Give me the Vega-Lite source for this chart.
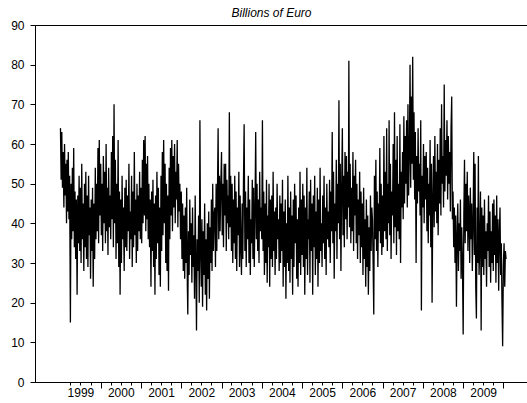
{
"$schema":"https://vega.github.io/schema/vega-lite/v6.json",
"width":493,"height":357,
"autosize":{"type":"none"},
"padding":{"left":35,"top":25,"right":0,"bottom":21},
"title":{"text":"Billions of Euro","fontStyle":"italic","fontWeight":"normal","font":"Liberation Sans","fontSize":12,"color":"#000","dx":-10,"offset":-1},
"config":{"view":{"stroke":"#000","strokeWidth":1},"axis":{"labelFont":"Liberation Sans","labelFontSize":12,"labelColor":"#000","domainColor":"#000","tickColor":"#000","grid":false,"title":null}},
"data":{"values":[
{"d":"1999-01-01","v":64},{"d":"1999-01-07","v":51},{"d":"1999-01-13","v":63},{"d":"1999-01-19","v":49},{"d":"1999-01-25","v":58},
{"d":"1999-02-01","v":44},{"d":"1999-02-07","v":60},{"d":"1999-02-13","v":47},{"d":"1999-02-19","v":55},{"d":"1999-02-25","v":40},
{"d":"1999-03-01","v":56},{"d":"1999-03-07","v":43},{"d":"1999-03-13","v":58},{"d":"1999-03-19","v":41},{"d":"1999-03-25","v":52},
{"d":"1999-04-01","v":15},{"d":"1999-04-07","v":50},{"d":"1999-04-13","v":36},{"d":"1999-04-19","v":54},{"d":"1999-04-25","v":38},
{"d":"1999-05-01","v":59},{"d":"1999-05-07","v":34},{"d":"1999-05-13","v":48},{"d":"1999-05-19","v":31},{"d":"1999-05-25","v":46},
{"d":"1999-06-01","v":22},{"d":"1999-06-07","v":47},{"d":"1999-06-13","v":35},{"d":"1999-06-19","v":52},{"d":"1999-06-25","v":33},
{"d":"1999-07-01","v":49},{"d":"1999-07-07","v":30},{"d":"1999-07-13","v":55},{"d":"1999-07-19","v":36},{"d":"1999-07-25","v":45},
{"d":"1999-08-01","v":28},{"d":"1999-08-07","v":50},{"d":"1999-08-13","v":34},{"d":"1999-08-19","v":53},{"d":"1999-08-25","v":31},
{"d":"1999-09-01","v":47},{"d":"1999-09-07","v":29},{"d":"1999-09-13","v":52},{"d":"1999-09-19","v":37},{"d":"1999-09-25","v":44},
{"d":"1999-10-01","v":26},{"d":"1999-10-07","v":46},{"d":"1999-10-13","v":33},{"d":"1999-10-19","v":49},{"d":"1999-10-25","v":24},
{"d":"1999-11-01","v":45},{"d":"1999-11-07","v":31},{"d":"1999-11-13","v":54},{"d":"1999-11-19","v":36},{"d":"1999-11-25","v":50},
{"d":"1999-12-01","v":38},{"d":"1999-12-07","v":59},{"d":"1999-12-13","v":35},{"d":"1999-12-19","v":61},{"d":"1999-12-25","v":42},
{"d":"2000-01-01","v":55},{"d":"2000-01-07","v":37},{"d":"2000-01-13","v":50},{"d":"2000-01-19","v":33},{"d":"2000-01-25","v":57},
{"d":"2000-02-01","v":40},{"d":"2000-02-07","v":53},{"d":"2000-02-13","v":35},{"d":"2000-02-19","v":60},{"d":"2000-02-25","v":38},
{"d":"2000-03-01","v":49},{"d":"2000-03-07","v":32},{"d":"2000-03-13","v":54},{"d":"2000-03-19","v":39},{"d":"2000-03-25","v":47},
{"d":"2000-04-01","v":36},{"d":"2000-04-07","v":58},{"d":"2000-04-13","v":41},{"d":"2000-04-19","v":62},{"d":"2000-04-25","v":34},
{"d":"2000-05-01","v":70},{"d":"2000-05-07","v":40},{"d":"2000-05-13","v":56},{"d":"2000-05-19","v":31},{"d":"2000-05-25","v":50},
{"d":"2000-06-01","v":35},{"d":"2000-06-07","v":61},{"d":"2000-06-13","v":29},{"d":"2000-06-19","v":48},{"d":"2000-06-25","v":22},
{"d":"2000-07-01","v":46},{"d":"2000-07-07","v":30},{"d":"2000-07-13","v":52},{"d":"2000-07-19","v":36},{"d":"2000-07-25","v":44},
{"d":"2000-08-01","v":28},{"d":"2000-08-07","v":49},{"d":"2000-08-13","v":34},{"d":"2000-08-19","v":51},{"d":"2000-08-25","v":33},
{"d":"2000-09-01","v":47},{"d":"2000-09-07","v":38},{"d":"2000-09-13","v":55},{"d":"2000-09-19","v":31},{"d":"2000-09-25","v":43},
{"d":"2000-10-01","v":36},{"d":"2000-10-07","v":52},{"d":"2000-10-13","v":29},{"d":"2000-10-19","v":48},{"d":"2000-10-25","v":34},
{"d":"2000-11-01","v":58},{"d":"2000-11-07","v":37},{"d":"2000-11-13","v":46},{"d":"2000-11-19","v":30},{"d":"2000-11-25","v":50},
{"d":"2000-12-01","v":33},{"d":"2000-12-07","v":47},{"d":"2000-12-13","v":38},{"d":"2000-12-19","v":53},{"d":"2000-12-25","v":36},
{"d":"2001-01-01","v":49},{"d":"2001-01-07","v":35},{"d":"2001-01-13","v":56},{"d":"2001-01-19","v":40},{"d":"2001-01-25","v":61},
{"d":"2001-02-01","v":42},{"d":"2001-02-07","v":62},{"d":"2001-02-13","v":38},{"d":"2001-02-19","v":55},{"d":"2001-02-25","v":41},
{"d":"2001-03-01","v":57},{"d":"2001-03-07","v":36},{"d":"2001-03-13","v":50},{"d":"2001-03-19","v":34},{"d":"2001-03-25","v":46},
{"d":"2001-04-01","v":24},{"d":"2001-04-07","v":48},{"d":"2001-04-13","v":33},{"d":"2001-04-19","v":51},{"d":"2001-04-25","v":29},
{"d":"2001-05-01","v":45},{"d":"2001-05-07","v":22},{"d":"2001-05-13","v":47},{"d":"2001-05-19","v":31},{"d":"2001-05-25","v":53},
{"d":"2001-06-01","v":35},{"d":"2001-06-07","v":49},{"d":"2001-06-13","v":27},{"d":"2001-06-19","v":44},{"d":"2001-06-25","v":24},
{"d":"2001-07-01","v":52},{"d":"2001-07-07","v":33},{"d":"2001-07-13","v":58},{"d":"2001-07-19","v":37},{"d":"2001-07-25","v":61},
{"d":"2001-08-01","v":40},{"d":"2001-08-07","v":55},{"d":"2001-08-13","v":30},{"d":"2001-08-19","v":50},{"d":"2001-08-25","v":28},
{"d":"2001-09-01","v":47},{"d":"2001-09-07","v":23},{"d":"2001-09-13","v":54},{"d":"2001-09-19","v":36},{"d":"2001-09-25","v":59},
{"d":"2001-10-01","v":42},{"d":"2001-10-07","v":61},{"d":"2001-10-13","v":38},{"d":"2001-10-19","v":57},{"d":"2001-10-25","v":44},
{"d":"2001-11-01","v":60},{"d":"2001-11-07","v":40},{"d":"2001-11-13","v":53},{"d":"2001-11-19","v":46},{"d":"2001-11-25","v":61},
{"d":"2001-12-01","v":39},{"d":"2001-12-07","v":55},{"d":"2001-12-13","v":43},{"d":"2001-12-19","v":50},{"d":"2001-12-25","v":36},
{"d":"2002-01-01","v":48},{"d":"2002-01-07","v":31},{"d":"2002-01-13","v":45},{"d":"2002-01-19","v":28},{"d":"2002-01-25","v":42},
{"d":"2002-02-01","v":26},{"d":"2002-02-07","v":44},{"d":"2002-02-13","v":30},{"d":"2002-02-19","v":49},{"d":"2002-02-25","v":24},
{"d":"2002-03-01","v":17},{"d":"2002-03-07","v":38},{"d":"2002-03-13","v":27},{"d":"2002-03-19","v":46},{"d":"2002-03-25","v":32},
{"d":"2002-04-01","v":40},{"d":"2002-04-07","v":25},{"d":"2002-04-13","v":44},{"d":"2002-04-19","v":29},{"d":"2002-04-25","v":37},
{"d":"2002-05-01","v":21},{"d":"2002-05-07","v":47},{"d":"2002-05-13","v":30},{"d":"2002-05-19","v":13},{"d":"2002-05-25","v":36},
{"d":"2002-06-01","v":28},{"d":"2002-06-07","v":42},{"d":"2002-06-13","v":20},{"d":"2002-06-19","v":66},{"d":"2002-06-25","v":33},
{"d":"2002-07-01","v":24},{"d":"2002-07-07","v":41},{"d":"2002-07-13","v":19},{"d":"2002-07-19","v":38},{"d":"2002-07-25","v":27},
{"d":"2002-08-01","v":45},{"d":"2002-08-07","v":22},{"d":"2002-08-13","v":36},{"d":"2002-08-19","v":18},{"d":"2002-08-25","v":40},
{"d":"2002-09-01","v":26},{"d":"2002-09-07","v":43},{"d":"2002-09-13","v":21},{"d":"2002-09-19","v":39},{"d":"2002-09-25","v":30},
{"d":"2002-10-01","v":46},{"d":"2002-10-07","v":28},{"d":"2002-10-13","v":50},{"d":"2002-10-19","v":33},{"d":"2002-10-25","v":42},
{"d":"2002-11-01","v":44},{"d":"2002-11-07","v":29},{"d":"2002-11-13","v":50},{"d":"2002-11-19","v":33},{"d":"2002-11-25","v":47},
{"d":"2002-12-01","v":64},{"d":"2002-12-07","v":36},{"d":"2002-12-13","v":52},{"d":"2002-12-19","v":38},{"d":"2002-12-25","v":49},
{"d":"2003-01-01","v":58},{"d":"2003-01-07","v":37},{"d":"2003-01-13","v":50},{"d":"2003-01-19","v":34},{"d":"2003-01-25","v":55},
{"d":"2003-02-01","v":42},{"d":"2003-02-07","v":55},{"d":"2003-02-13","v":33},{"d":"2003-02-19","v":51},{"d":"2003-02-25","v":40},
{"d":"2003-03-01","v":47},{"d":"2003-03-07","v":36},{"d":"2003-03-13","v":68},{"d":"2003-03-19","v":39},{"d":"2003-03-25","v":52},
{"d":"2003-04-01","v":33},{"d":"2003-04-07","v":50},{"d":"2003-04-13","v":30},{"d":"2003-04-19","v":46},{"d":"2003-04-25","v":35},
{"d":"2003-05-01","v":52},{"d":"2003-05-07","v":31},{"d":"2003-05-13","v":48},{"d":"2003-05-19","v":28},{"d":"2003-05-25","v":44},
{"d":"2003-06-01","v":37},{"d":"2003-06-07","v":53},{"d":"2003-06-13","v":29},{"d":"2003-06-19","v":47},{"d":"2003-06-25","v":34},
{"d":"2003-07-01","v":27},{"d":"2003-07-07","v":45},{"d":"2003-07-13","v":31},{"d":"2003-07-19","v":50},{"d":"2003-07-25","v":65},
{"d":"2003-08-01","v":33},{"d":"2003-08-07","v":48},{"d":"2003-08-13","v":29},{"d":"2003-08-19","v":44},{"d":"2003-08-25","v":36},
{"d":"2003-09-01","v":52},{"d":"2003-09-07","v":30},{"d":"2003-09-13","v":46},{"d":"2003-09-19","v":27},{"d":"2003-09-25","v":41},
{"d":"2003-10-01","v":35},{"d":"2003-10-07","v":51},{"d":"2003-10-13","v":31},{"d":"2003-10-19","v":49},{"d":"2003-10-25","v":29},
{"d":"2003-11-01","v":44},{"d":"2003-11-07","v":63},{"d":"2003-11-13","v":36},{"d":"2003-11-19","v":50},{"d":"2003-11-25","v":33},
{"d":"2003-12-01","v":46},{"d":"2003-12-07","v":30},{"d":"2003-12-13","v":53},{"d":"2003-12-19","v":38},{"d":"2003-12-25","v":44},
{"d":"2004-01-01","v":36},{"d":"2004-01-07","v":66},{"d":"2004-01-13","v":33},{"d":"2004-01-19","v":48},{"d":"2004-01-25","v":27},
{"d":"2004-02-01","v":45},{"d":"2004-02-07","v":30},{"d":"2004-02-13","v":51},{"d":"2004-02-19","v":25},{"d":"2004-02-25","v":42},
{"d":"2004-03-01","v":34},{"d":"2004-03-07","v":50},{"d":"2004-03-13","v":24},{"d":"2004-03-19","v":46},{"d":"2004-03-25","v":31},
{"d":"2004-04-01","v":47},{"d":"2004-04-07","v":29},{"d":"2004-04-13","v":53},{"d":"2004-04-19","v":33},{"d":"2004-04-25","v":43},
{"d":"2004-05-01","v":27},{"d":"2004-05-07","v":44},{"d":"2004-05-13","v":31},{"d":"2004-05-19","v":50},{"d":"2004-05-25","v":36},
{"d":"2004-06-01","v":41},{"d":"2004-06-07","v":28},{"d":"2004-06-13","v":47},{"d":"2004-06-19","v":30},{"d":"2004-06-25","v":45},
{"d":"2004-07-01","v":33},{"d":"2004-07-07","v":51},{"d":"2004-07-13","v":24},{"d":"2004-07-19","v":43},{"d":"2004-07-25","v":29},
{"d":"2004-08-01","v":46},{"d":"2004-08-07","v":21},{"d":"2004-08-13","v":40},{"d":"2004-08-19","v":30},{"d":"2004-08-25","v":52},
{"d":"2004-09-01","v":28},{"d":"2004-09-07","v":44},{"d":"2004-09-13","v":25},{"d":"2004-09-19","v":48},{"d":"2004-09-25","v":31},
{"d":"2004-10-01","v":42},{"d":"2004-10-07","v":22},{"d":"2004-10-13","v":46},{"d":"2004-10-19","v":29},{"d":"2004-10-25","v":50},
{"d":"2004-11-01","v":35},{"d":"2004-11-07","v":47},{"d":"2004-11-13","v":26},{"d":"2004-11-19","v":41},{"d":"2004-11-25","v":24},
{"d":"2004-12-01","v":44},{"d":"2004-12-07","v":30},{"d":"2004-12-13","v":53},{"d":"2004-12-19","v":27},{"d":"2004-12-25","v":46},
{"d":"2005-01-01","v":32},{"d":"2005-01-07","v":50},{"d":"2005-01-13","v":29},{"d":"2005-01-19","v":47},{"d":"2005-01-25","v":22},
{"d":"2005-02-01","v":44},{"d":"2005-02-07","v":31},{"d":"2005-02-13","v":54},{"d":"2005-02-19","v":27},{"d":"2005-02-25","v":41},
{"d":"2005-03-01","v":36},{"d":"2005-03-07","v":48},{"d":"2005-03-13","v":25},{"d":"2005-03-19","v":51},{"d":"2005-03-25","v":33},
{"d":"2005-04-01","v":45},{"d":"2005-04-07","v":22},{"d":"2005-04-13","v":47},{"d":"2005-04-19","v":34},{"d":"2005-04-25","v":52},
{"d":"2005-05-01","v":27},{"d":"2005-05-07","v":43},{"d":"2005-05-13","v":31},{"d":"2005-05-19","v":49},{"d":"2005-05-25","v":24},
{"d":"2005-06-01","v":46},{"d":"2005-06-07","v":30},{"d":"2005-06-13","v":54},{"d":"2005-06-19","v":33},{"d":"2005-06-25","v":40},
{"d":"2005-07-01","v":29},{"d":"2005-07-07","v":47},{"d":"2005-07-13","v":35},{"d":"2005-07-19","v":52},{"d":"2005-07-25","v":31},
{"d":"2005-08-01","v":44},{"d":"2005-08-07","v":27},{"d":"2005-08-13","v":50},{"d":"2005-08-19","v":36},{"d":"2005-08-25","v":43},
{"d":"2005-09-01","v":34},{"d":"2005-09-07","v":51},{"d":"2005-09-13","v":30},{"d":"2005-09-19","v":48},{"d":"2005-09-25","v":38},
{"d":"2005-10-01","v":63},{"d":"2005-10-07","v":35},{"d":"2005-10-13","v":53},{"d":"2005-10-19","v":26},{"d":"2005-10-25","v":45},
{"d":"2005-11-01","v":38},{"d":"2005-11-07","v":56},{"d":"2005-11-13","v":31},{"d":"2005-11-19","v":50},{"d":"2005-11-25","v":40},
{"d":"2005-12-01","v":71},{"d":"2005-12-07","v":36},{"d":"2005-12-13","v":55},{"d":"2005-12-19","v":28},{"d":"2005-12-25","v":47},
{"d":"2006-01-01","v":64},{"d":"2006-01-07","v":37},{"d":"2006-01-13","v":52},{"d":"2006-01-19","v":34},{"d":"2006-01-25","v":58},
{"d":"2006-02-01","v":41},{"d":"2006-02-07","v":57},{"d":"2006-02-13","v":36},{"d":"2006-02-19","v":53},{"d":"2006-02-25","v":44},
{"d":"2006-03-01","v":81},{"d":"2006-03-07","v":39},{"d":"2006-03-13","v":55},{"d":"2006-03-19","v":35},{"d":"2006-03-25","v":49},
{"d":"2006-04-01","v":38},{"d":"2006-04-07","v":58},{"d":"2006-04-13","v":33},{"d":"2006-04-19","v":52},{"d":"2006-04-25","v":42},
{"d":"2006-05-01","v":56},{"d":"2006-05-07","v":35},{"d":"2006-05-13","v":50},{"d":"2006-05-19","v":31},{"d":"2006-05-25","v":46},
{"d":"2006-06-01","v":37},{"d":"2006-06-07","v":53},{"d":"2006-06-13","v":30},{"d":"2006-06-19","v":48},{"d":"2006-06-25","v":34},
{"d":"2006-07-01","v":45},{"d":"2006-07-07","v":27},{"d":"2006-07-13","v":49},{"d":"2006-07-19","v":31},{"d":"2006-07-25","v":41},
{"d":"2006-08-01","v":24},{"d":"2006-08-07","v":46},{"d":"2006-08-13","v":29},{"d":"2006-08-19","v":42},{"d":"2006-08-25","v":22},
{"d":"2006-09-01","v":39},{"d":"2006-09-07","v":28},{"d":"2006-09-13","v":47},{"d":"2006-09-19","v":33},{"d":"2006-09-25","v":44},
{"d":"2006-10-01","v":41},{"d":"2006-10-07","v":30},{"d":"2006-10-13","v":17},{"d":"2006-10-19","v":52},{"d":"2006-10-25","v":36},
{"d":"2006-11-01","v":56},{"d":"2006-11-07","v":33},{"d":"2006-11-13","v":48},{"d":"2006-11-19","v":29},{"d":"2006-11-25","v":45},
{"d":"2006-12-01","v":38},{"d":"2006-12-07","v":59},{"d":"2006-12-13","v":35},{"d":"2006-12-19","v":50},{"d":"2006-12-25","v":32},
{"d":"2007-01-01","v":47},{"d":"2007-01-07","v":34},{"d":"2007-01-13","v":62},{"d":"2007-01-19","v":38},{"d":"2007-01-25","v":53},
{"d":"2007-02-01","v":36},{"d":"2007-02-07","v":64},{"d":"2007-02-13","v":33},{"d":"2007-02-19","v":50},{"d":"2007-02-25","v":40},
{"d":"2007-03-01","v":66},{"d":"2007-03-07","v":37},{"d":"2007-03-13","v":55},{"d":"2007-03-19","v":31},{"d":"2007-03-25","v":48},
{"d":"2007-04-01","v":42},{"d":"2007-04-07","v":60},{"d":"2007-04-13","v":35},{"d":"2007-04-19","v":68},{"d":"2007-04-25","v":39},
{"d":"2007-05-01","v":56},{"d":"2007-05-07","v":32},{"d":"2007-05-13","v":62},{"d":"2007-05-19","v":38},{"d":"2007-05-25","v":50},
{"d":"2007-06-01","v":36},{"d":"2007-06-07","v":65},{"d":"2007-06-13","v":30},{"d":"2007-06-19","v":53},{"d":"2007-06-25","v":44},
{"d":"2007-07-01","v":58},{"d":"2007-07-07","v":41},{"d":"2007-07-13","v":67},{"d":"2007-07-19","v":45},{"d":"2007-07-25","v":62},
{"d":"2007-08-01","v":50},{"d":"2007-08-07","v":66},{"d":"2007-08-13","v":44},{"d":"2007-08-19","v":70},{"d":"2007-08-25","v":47},
{"d":"2007-09-01","v":58},{"d":"2007-09-07","v":80},{"d":"2007-09-13","v":49},{"d":"2007-09-19","v":72},{"d":"2007-09-25","v":55},
{"d":"2007-10-01","v":82},{"d":"2007-10-07","v":51},{"d":"2007-10-13","v":68},{"d":"2007-10-19","v":46},{"d":"2007-10-25","v":63},
{"d":"2007-11-01","v":30},{"d":"2007-11-07","v":57},{"d":"2007-11-13","v":45},{"d":"2007-11-19","v":64},{"d":"2007-11-25","v":48},
{"d":"2007-12-01","v":55},{"d":"2007-12-07","v":42},{"d":"2007-12-13","v":66},{"d":"2007-12-19","v":18},{"d":"2007-12-25","v":52},
{"d":"2008-01-01","v":44},{"d":"2008-01-07","v":60},{"d":"2008-01-13","v":40},{"d":"2008-01-19","v":57},{"d":"2008-01-25","v":46},
{"d":"2008-02-01","v":58},{"d":"2008-02-07","v":38},{"d":"2008-02-13","v":54},{"d":"2008-02-19","v":35},{"d":"2008-02-25","v":50},
{"d":"2008-03-01","v":42},{"d":"2008-03-07","v":61},{"d":"2008-03-13","v":34},{"d":"2008-03-19","v":55},{"d":"2008-03-25","v":20},
{"d":"2008-04-01","v":47},{"d":"2008-04-07","v":57},{"d":"2008-04-13","v":39},{"d":"2008-04-19","v":62},{"d":"2008-04-25","v":43},
{"d":"2008-05-01","v":53},{"d":"2008-05-07","v":40},{"d":"2008-05-13","v":60},{"d":"2008-05-19","v":37},{"d":"2008-05-25","v":56},
{"d":"2008-06-01","v":45},{"d":"2008-06-07","v":64},{"d":"2008-06-13","v":42},{"d":"2008-06-19","v":70},{"d":"2008-06-25","v":50},
{"d":"2008-07-01","v":57},{"d":"2008-07-07","v":44},{"d":"2008-07-13","v":75},{"d":"2008-07-19","v":48},{"d":"2008-07-25","v":61},
{"d":"2008-08-01","v":52},{"d":"2008-08-07","v":66},{"d":"2008-08-13","v":46},{"d":"2008-08-19","v":62},{"d":"2008-08-25","v":50},
{"d":"2008-09-01","v":58},{"d":"2008-09-07","v":43},{"d":"2008-09-13","v":64},{"d":"2008-09-19","v":72},{"d":"2008-09-25","v":41},
{"d":"2008-10-01","v":48},{"d":"2008-10-07","v":34},{"d":"2008-10-13","v":44},{"d":"2008-10-19","v":30},{"d":"2008-10-25","v":42},
{"d":"2008-11-01","v":19},{"d":"2008-11-07","v":37},{"d":"2008-11-13","v":45},{"d":"2008-11-19","v":28},{"d":"2008-11-25","v":40},
{"d":"2008-12-01","v":33},{"d":"2008-12-07","v":46},{"d":"2008-12-13","v":26},{"d":"2008-12-19","v":39},{"d":"2008-12-25","v":31},
{"d":"2009-01-01","v":12},{"d":"2009-01-07","v":42},{"d":"2009-01-13","v":56},{"d":"2009-01-19","v":35},{"d":"2009-01-25","v":50},
{"d":"2009-02-01","v":38},{"d":"2009-02-07","v":53},{"d":"2009-02-13","v":33},{"d":"2009-02-19","v":47},{"d":"2009-02-25","v":41},
{"d":"2009-03-01","v":30},{"d":"2009-03-07","v":49},{"d":"2009-03-13","v":36},{"d":"2009-03-19","v":45},{"d":"2009-03-25","v":28},
{"d":"2009-04-01","v":41},{"d":"2009-04-07","v":58},{"d":"2009-04-13","v":32},{"d":"2009-04-19","v":55},{"d":"2009-04-25","v":24},
{"d":"2009-05-01","v":16},{"d":"2009-05-07","v":44},{"d":"2009-05-13","v":30},{"d":"2009-05-19","v":57},{"d":"2009-05-25","v":27},
{"d":"2009-06-01","v":35},{"d":"2009-06-07","v":48},{"d":"2009-06-13","v":13},{"d":"2009-06-19","v":44},{"d":"2009-06-25","v":29},
{"d":"2009-07-01","v":42},{"d":"2009-07-07","v":27},{"d":"2009-07-13","v":46},{"d":"2009-07-19","v":31},{"d":"2009-07-25","v":38},
{"d":"2009-08-01","v":24},{"d":"2009-08-07","v":40},{"d":"2009-08-13","v":33},{"d":"2009-08-19","v":47},{"d":"2009-08-25","v":29},
{"d":"2009-09-01","v":43},{"d":"2009-09-07","v":25},{"d":"2009-09-13","v":38},{"d":"2009-09-19","v":30},{"d":"2009-09-25","v":45},
{"d":"2009-10-01","v":28},{"d":"2009-10-07","v":46},{"d":"2009-10-13","v":32},{"d":"2009-10-19","v":42},{"d":"2009-10-25","v":25},
{"d":"2009-11-01","v":47},{"d":"2009-11-07","v":30},{"d":"2009-11-13","v":41},{"d":"2009-11-19","v":23},{"d":"2009-11-25","v":37},
{"d":"2009-12-01","v":44},{"d":"2009-12-07","v":27},{"d":"2009-12-13","v":35},{"d":"2009-12-19","v":20},{"d":"2009-12-25","v":9},
{"d":"2010-01-01","v":30},{"d":"2010-01-07","v":35},{"d":"2010-01-13","v":24},{"d":"2010-01-19","v":33},{"d":"2010-01-25","v":31}
]},
"mark":{"type":"line","color":"#000","strokeWidth":1.3,"strokeJoin":"miter","strokeMiterLimit":2},
"encoding":{
"x":{"field":"d","type":"temporal",
"scale":{"type":"utc","domain":[{"year":1998,"month":5,"date":15,"utc":true},{"year":2010,"month":8,"date":12,"utc":true}],"nice":false},
"axis":{"values":[
{"year":1999,"month":4,"date":1,"utc":true},{"year":1999,"month":7,"date":1,"utc":true},{"year":1999,"month":10,"date":1,"utc":true},
{"year":2000,"month":1,"date":1,"utc":true},{"year":2000,"month":4,"date":1,"utc":true},{"year":2000,"month":7,"date":1,"utc":true},{"year":2000,"month":10,"date":1,"utc":true},
{"year":2001,"month":1,"date":1,"utc":true},{"year":2001,"month":4,"date":1,"utc":true},{"year":2001,"month":7,"date":1,"utc":true},{"year":2001,"month":10,"date":1,"utc":true},
{"year":2002,"month":1,"date":1,"utc":true},{"year":2002,"month":4,"date":1,"utc":true},{"year":2002,"month":7,"date":1,"utc":true},{"year":2002,"month":10,"date":1,"utc":true},
{"year":2003,"month":1,"date":1,"utc":true},{"year":2003,"month":4,"date":1,"utc":true},{"year":2003,"month":7,"date":1,"utc":true},{"year":2003,"month":10,"date":1,"utc":true},
{"year":2004,"month":1,"date":1,"utc":true},{"year":2004,"month":4,"date":1,"utc":true},{"year":2004,"month":7,"date":1,"utc":true},{"year":2004,"month":10,"date":1,"utc":true},
{"year":2005,"month":1,"date":1,"utc":true},{"year":2005,"month":4,"date":1,"utc":true},{"year":2005,"month":7,"date":1,"utc":true},{"year":2005,"month":10,"date":1,"utc":true},
{"year":2006,"month":1,"date":1,"utc":true},{"year":2006,"month":4,"date":1,"utc":true},{"year":2006,"month":7,"date":1,"utc":true},{"year":2006,"month":10,"date":1,"utc":true},
{"year":2007,"month":1,"date":1,"utc":true},{"year":2007,"month":4,"date":1,"utc":true},{"year":2007,"month":7,"date":1,"utc":true},{"year":2007,"month":10,"date":1,"utc":true},
{"year":2008,"month":1,"date":1,"utc":true},{"year":2008,"month":4,"date":1,"utc":true},{"year":2008,"month":7,"date":1,"utc":true},{"year":2008,"month":10,"date":1,"utc":true},
{"year":2009,"month":1,"date":1,"utc":true},{"year":2009,"month":4,"date":1,"utc":true},{"year":2009,"month":7,"date":1,"utc":true},{"year":2009,"month":10,"date":1,"utc":true},
{"year":2010,"month":1,"date":1,"utc":true}],
"labelExpr":"utcmonth(datum.value)==6 ? utcFormat(datum.value,'%Y') : ''",
"labelOverlap":false,"labelFlush":false,"labelPadding":2,
"tickSize":{"condition":{"test":"utcmonth(datum.value)==0","value":6},"value":3}}},
"y":{"field":"v","type":"quantitative","scale":{"domain":[0,90],"nice":false},
"axis":{"values":[0,10,20,30,40,50,60,70,80,90],"tickSize":5,"labelPadding":6}}
}
}
